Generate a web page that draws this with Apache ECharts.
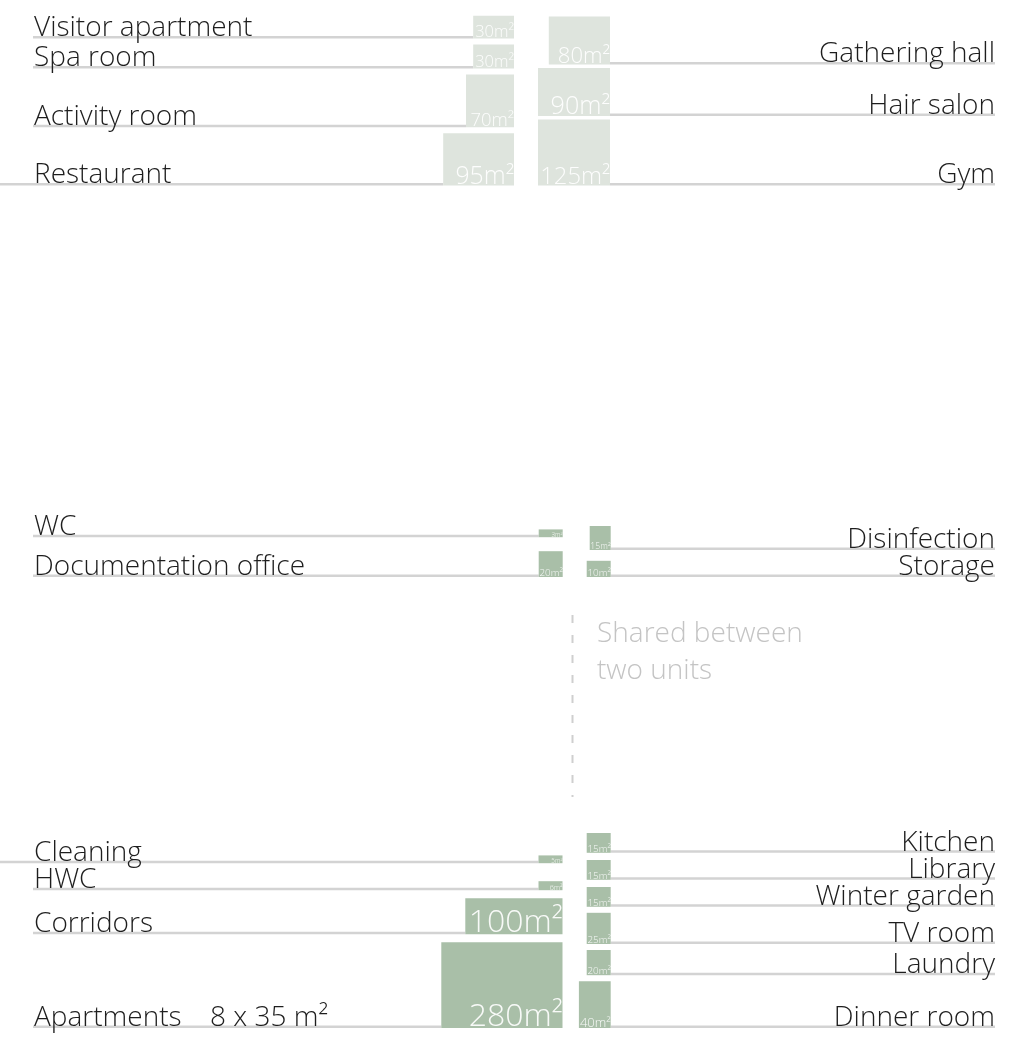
<!DOCTYPE html>
<html>
<head>
<meta charset="utf-8">
<script src="https://cdn.jsdelivr.net/npm/echarts@6/dist/echarts.min.js"></script>
<style>html,body{margin:0;padding:0;background:#fff}#chart{width:1018px;height:1045px}</style>
</head>
<body>
<div id="chart"></div>
<script>
// ---------- DATA (room names, areas in m², drawn footprint width/depth in m) ----------
const topLeftRooms   = ['Visitor apartment', 'Spa room', 'Activity room', 'Restaurant'];
const topLeftAreas   = [30, 30, 70, 95];
const topLeftWidths  = [6.8, 6.8, 8.0, 11.8];
const topLeftDepths  = [3.8, 4.0, 8.8, 8.7];

const topRightRooms  = ['Gathering hall', 'Hair salon', 'Gym'];
const topRightAreas  = [80, 90, 125];
const topRightWidths = [10.2, 12.0, 12.0];
const topRightDepths = [8.0, 8.0, 11.0];

const midLeftRooms   = ['WC', 'Documentation office'];
const midLeftAreas   = [3, 20];
const midLeftWidths  = [4.0, 4.0];
const midLeftDepths  = [1.3, 4.3];

const midRightRooms  = ['Disinfection', 'Storage'];
const midRightAreas  = [15, 10];
const midRightWidths = [3.5, 4.0];
const midRightDepths = [4.0, 2.7];

const botLeftRooms   = ['Cleaning', 'HWC', 'Corridors', 'Apartments'];
const botLeftAreas   = [5, 6, 100, 280];
const botLeftWidths  = [4.0, 4.0, 16.2, 20.2];
const botLeftDepths  = [1.3, 1.5, 6.0, 14.3];

const botRightRooms  = ['Kitchen', 'Library', 'Winter garden', 'TV room', 'Laundry', 'Dinner room'];
const botRightAreas  = [15, 15, 15, 25, 20, 40];
const botRightWidths = [4.0, 4.0, 4.0, 4.0, 4.0, 5.3];
const botRightDepths = [3.3, 3.3, 3.3, 5.2, 4.2, 7.8];

const roomNotes = { 'Apartments': '8 x 35 m²' };
const sharedNote = ['Shared between', 'two units'];
const roomsLinkedToEdge = ['Restaurant', 'Cleaning'];

// ---------- LAYOUT ----------
const W = 1018, H = 1045, PX_PER_M = 6;
const FONT = '"Open Sans"';
const FONT_W = 300;
const LABEL_FS = 28;
const LIGHT = '#dee4dd', DARK = '#a9bfa8';
const groups = [
  { rooms: topLeftRooms,  areas: topLeftAreas,  widths: topLeftWidths,  depths: topLeftDepths,  side: 'left',  rightPx: 514,   basePx: 185.5, gapPx: 6,   color: LIGHT },
  { rooms: topRightRooms, areas: topRightAreas, widths: topRightWidths, depths: topRightDepths, side: 'right', rightPx: 610,   basePx: 185.5, gapPx: 3.5, color: LIGHT },
  { rooms: midLeftRooms,  areas: midLeftAreas,  widths: midLeftWidths,  depths: midLeftDepths,  side: 'left',  rightPx: 562.7, basePx: 577,   gapPx: 14,  color: DARK },
  { rooms: midRightRooms, areas: midRightAreas, widths: midRightWidths, depths: midRightDepths, side: 'right', rightPx: 610.7, basePx: 577,   gapPx: 8,   color: DARK },
  { rooms: botLeftRooms,  areas: botLeftAreas,  widths: botLeftWidths,  depths: botLeftDepths,  side: 'left',  rightPx: 562.5, basePx: 1028,  gapPx: 8,   color: DARK },
  { rooms: botRightRooms, areas: botRightAreas, widths: botRightWidths, depths: botRightDepths, side: 'right', rightPx: 610.7, basePx: 1028,  gapPx: 6,   color: DARK }
];
const MIN_ROW_M = 27 / PX_PER_M;

// stack each group's rooms upward from the shared baseline
const items = [];
groups.forEach(g => {
  let bottom = g.basePx / PX_PER_M;
  const gap = g.gapPx / PX_PER_M;
  const placed = [];
  for (let i = g.rooms.length - 1; i >= 0; i--) {
    if (placed.length) {
      const prev = placed[placed.length - 1];
      bottom = prev.top - gap;
      if (prev.bottom - bottom < MIN_ROW_M) bottom = prev.bottom - MIN_ROW_M;
    }
    placed.push({
      name: g.rooms[i], area: g.areas[i], w: g.widths[i], d: g.depths[i],
      right: g.rightPx / PX_PER_M, bottom: bottom, top: bottom - g.depths[i],
      side: g.side, color: g.color
    });
  }
  placed.reverse().forEach(p => items.push(p));
});

const seriesData = items.map(it => ({ name: it.name, value: [it.right, it.bottom, it.w, it.d, it.area] }));

const measureCtx = document.createElement('canvas').getContext('2d');
function unitWidth(text) {
  measureCtx.font = FONT_W + ' 100px ' + FONT;
  return measureCtx.measureText(text).width / 100;
}

function renderItem(params, api) {
  const it = items[params.dataIndex];
  const br = api.coord([api.value(0), api.value(1)]);
  const sz = api.size([api.value(2), api.value(3)]);
  const sw = Math.abs(sz[0]), sh = Math.abs(sz[1]);
  const x0 = br[0] - sw, yb = br[1];
  const areaText = api.value(4) + 'm²';
  const hCap = sh < 20 ? sh * 0.8 : 0.9 * sh + 2;
  const fs = Math.min(sw / unitWidth(areaText) * 0.97, 0.28 * sw + 5, hCap, 32);
  const children = [];
  const lineY = yb - 1.2;
  if (it.side === 'left') {
    const startX = roomsLinkedToEdge.indexOf(it.name) >= 0 ? 0 : 33;
    children.push({ type: 'line', shape: { x1: startX, y1: lineY, x2: x0, y2: lineY }, style: { stroke: '#d3d3d3', lineWidth: 2.5 } });
  } else {
    children.push({ type: 'line', shape: { x1: br[0], y1: lineY, x2: 995, y2: lineY }, style: { stroke: '#d3d3d3', lineWidth: 2.5 } });
  }
  children.push({ type: 'rect', shape: { x: x0, y: yb - sh, width: sw, height: sh }, style: { fill: it.color } });
  children.push({ type: 'text', style: {
    text: areaText, x: br[0], y: yb + fs * 0.14, align: 'right', verticalAlign: 'bottom',
    fontSize: fs, fontFamily: FONT, fontWeight: FONT_W, fill: 'rgba(255,255,255,0.92)' } });
  const labelY = yb + 4;
  const lab = { fontSize: LABEL_FS, fontFamily: FONT, fontWeight: FONT_W, fill: '#1e1e1e', verticalAlign: 'bottom' };
  if (it.side === 'left') {
    children.push({ type: 'text', style: Object.assign({ text: it.name, x: 34, y: labelY, align: 'left' }, lab) });
    if (roomNotes[it.name]) {
      children.push({ type: 'text', style: Object.assign({ text: roomNotes[it.name], x: 210, y: labelY, align: 'left' }, lab) });
    }
  } else {
    children.push({ type: 'text', style: Object.assign({ text: it.name, x: 995, y: labelY, align: 'right' }, lab) });
  }
  return { type: 'group', children: children };
}

const chart = echarts.init(document.getElementById('chart'), null, { renderer: 'canvas' });
chart.setOption({
  animation: false,
  backgroundColor: '#ffffff',
  grid: { left: 0, right: 0, top: 0, bottom: 0 },
  xAxis: { type: 'value', min: 0, max: W / PX_PER_M, show: false },
  yAxis: { type: 'value', min: 0, max: H / PX_PER_M, inverse: true, show: false },
  series: [{
    type: 'custom',
    renderItem: renderItem,
    data: seriesData,
    clip: false
  }],
  graphic: [
    { type: 'line', shape: { x1: 572.5, y1: 615, x2: 572.5, y2: 797 }, style: { stroke: '#cfcfcf', lineWidth: 2, lineDash: [8, 12] } },
    { type: 'text', style: { text: sharedNote.join('\n'), x: 597, y: 616, fontSize: LABEL_FS, lineHeight: 37, fontFamily: FONT, fontWeight: FONT_W, fill: '#c4c4c4' } }
  ]
});
</script>
</body>
</html>
